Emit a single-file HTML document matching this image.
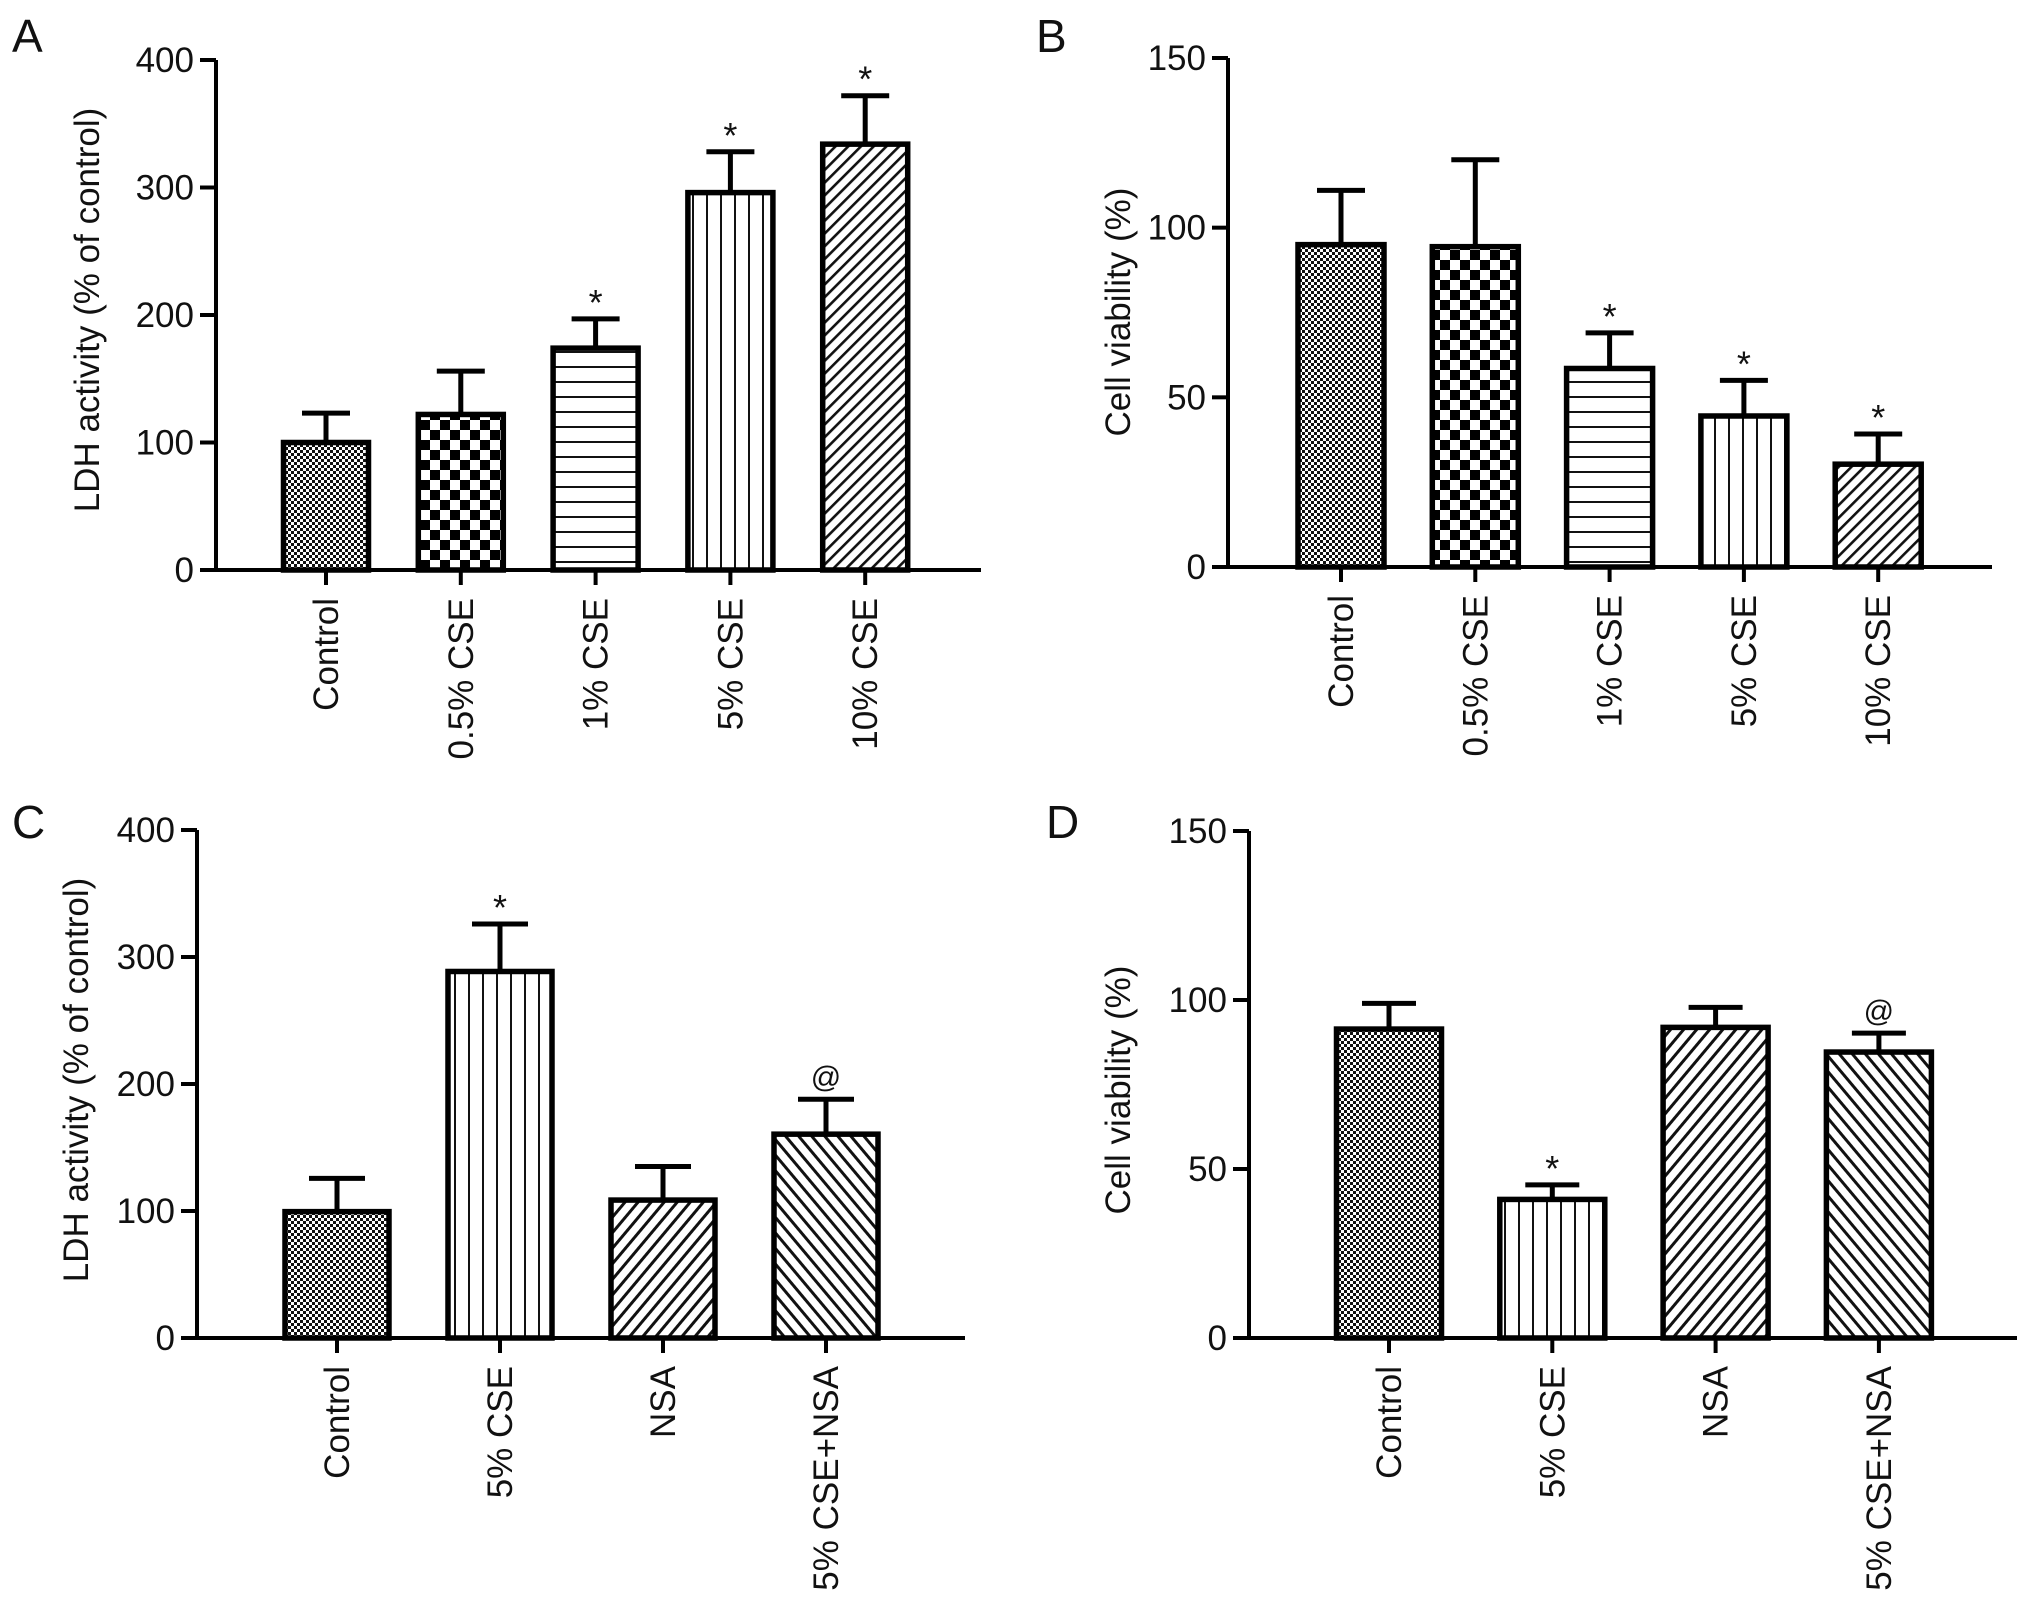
<!DOCTYPE html>
<html><head><meta charset="utf-8"><style>
html,body{margin:0;padding:0;background:#fff;}
svg{display:block;}
text{font-family:"Liberation Sans",Arial,sans-serif;fill:#111;}
</style></head><body>
<svg id="fig" width="2031" height="1615" viewBox="0 0 2031 1615" xmlns="http://www.w3.org/2000/svg">
<defs>
<pattern id="pFine" patternUnits="userSpaceOnUse" width="6" height="6"><rect width="6" height="6" fill="#fff"/><rect width="3" height="3" fill="#111"/><rect x="3" y="3" width="3" height="3" fill="#111"/></pattern>
<pattern id="pCheck" patternUnits="userSpaceOnUse" width="20" height="20"><rect width="20" height="20" fill="#fff"/><rect width="10" height="10" fill="#000"/><rect x="10" y="10" width="10" height="10" fill="#000"/></pattern>
<pattern id="pH" patternUnits="userSpaceOnUse" width="10" height="15"><rect width="10" height="15" fill="#fff"/><rect y="6" width="10" height="2" fill="#111"/></pattern>
<pattern id="pV" patternUnits="userSpaceOnUse" width="14" height="10"><rect width="14" height="10" fill="#fff"/><rect x="6" width="2" height="10" fill="#111"/></pattern>
<pattern id="pDiag" patternUnits="userSpaceOnUse" width="9" height="9" patternTransform="rotate(45)"><rect width="9" height="9" fill="#fff"/><rect width="2.6" height="9" fill="#111"/></pattern>
<pattern id="pDiag2" patternUnits="userSpaceOnUse" width="10" height="10" patternTransform="rotate(40)"><rect width="10" height="10" fill="#fff"/><rect width="3" height="10" fill="#111"/></pattern>
<pattern id="pBack" patternUnits="userSpaceOnUse" width="10" height="10" patternTransform="rotate(-40)"><rect width="10" height="10" fill="#fff"/><rect width="3" height="10" fill="#111"/></pattern>
</defs>
</svg>
<script>
const catsAB = ["Control","0.5% CSE","1% CSE","5% CSE","10% CSE"];
const catsCD = ["Control","5% CSE","NSA","5% CSE+NSA"];
const ldhA = [100,122,174,296,334];
const ldhAErr = [123,156,197,328,372];
const viaB = [95,94.4,58.5,44.5,30.3];
const viaBErr = [111,120,69,55,39.2];
const ldhC = [99.5,288.6,108.6,160.5];
const ldhCErr = [125.7,326,135,188];
const viaD = [91.4,41,91.9,84.6];
const viaDErr = [99,45.3,97.8,90.2];
const marksA = ["","","*","*","*"];
const marksB = ["","","*","*","*"];
const marksC = ["","*","","@"];
const marksD = ["","*","","@"];
const ticksLDH = [0,100,200,300,400];
const ticksVia = [0,50,100,150];
const fillsAB = ["pFine","pCheck","pH","pV","pDiag"];
const fillsCD = ["pFine","pV","pDiag2","pBack"];

const NS="http://www.w3.org/2000/svg";
const svg=document.getElementById('fig');
function mk(tag,attrs,parent){const e=document.createElementNS(NS,tag);for(const k in attrs)e.setAttribute(k,attrs[k]);(parent||svg).appendChild(e);return e;}

function panel(p){
  const g=mk('g',{});
  
  
  const yS=v=>p.y0-(v-0)/(p.yMax)*(p.y0-p.yTop);
  const xS=i=>p.x0c+i*p.step;
  const L=mk('text',{x:p.lx,y:p.ly,'font-size':46},g);L.textContent=p.id;
  
  
  p.vals.forEach((v,i)=>{
    const cx=xS(i),w=p.bw;
    const b=mk('rect',{x:cx-w/2,y:yS(v),width:w,height:p.y0-yS(v),fill:'url(#'+p.fills[i]+')',stroke:'#000','stroke-width':5.5},g);
    
    
    const ey=yS(p.errs[i]);
    const e1=mk('line',{x1:cx,x2:cx,y1:yS(v)-2,y2:ey,stroke:'#000','stroke-width':5},g);
    
    
    const e2=mk('line',{x1:cx-p.cap/2,x2:cx+p.cap/2,y1:ey,y2:ey,stroke:'#000','stroke-width':5},g);
    
    
    if(p.marks[i]){
      const m=p.marks[i];
      const t=mk('text',{x:cx,y:m==='*'?ey-4:ey-12,'font-size':m==='*'?36:30,'text-anchor':'middle',fill:m==='@'?'#444':'#111'},g);
      t.textContent=m;
      
      
    }
    const tk=mk('line',{x1:cx,x2:cx,y1:p.y0,y2:p.y0+15,stroke:'#000','stroke-width':4},g);
    
    
    const lb=mk('text',{x:0,y:0,'font-size':35,'text-anchor':'end',transform:`translate(${cx+12},${p.y0+28}) rotate(-90)`},g);
    lb.textContent=p.cats[i];
    
    
  });
  const ya=mk('line',{x1:p.ax,x2:p.ax,y1:p.yTop,y2:p.y0+2,stroke:'#000','stroke-width':4},g);
  
  
  const xa=mk('line',{x1:p.ax-16,x2:p.xEnd,y1:p.y0,y2:p.y0,stroke:'#000','stroke-width':4},g);
  
  
  p.ticks.forEach(t=>{
    const y=yS(t);
    const l=mk('line',{x1:p.ax-16,x2:p.ax,y1:y,y2:y,stroke:'#000','stroke-width':4},g);
    
    
    const tx=mk('text',{x:p.ax-22,y:y+12,'font-size':35,'text-anchor':'end'},g);
    tx.textContent=t;
    
    
  });
  const ti=mk('text',{x:0,y:0,'font-size':35,'text-anchor':'middle',transform:`translate(${p.tx+12},${p.ty}) rotate(-90)`},g);
  ti.textContent=p.title;
  
  
}

panel({id:'A',lx:12,ly:52,cats:catsAB,vals:ldhA,errs:ldhAErr,marks:marksA,fills:fillsAB,ticks:ticksLDH,yMax:400,y0:570,yTop:60,ax:216,xEnd:981,x0c:326,step:134.8,bw:85,cap:48,tx:87,ty:310,title:"LDH activity (% of control)"});
panel({id:'B',lx:1036,ly:52,cats:catsAB,vals:viaB,errs:viaBErr,marks:marksB,fills:fillsAB,ticks:ticksVia,yMax:150,y0:567,yTop:58,ax:1228,xEnd:1992,x0c:1341,step:134.3,bw:86,cap:48,tx:1118,ty:312,title:"Cell viability (%)"});
panel({id:'C',lx:12,ly:838,cats:catsCD,vals:ldhC,errs:ldhCErr,marks:marksC,fills:fillsCD,ticks:ticksLDH,yMax:400,y0:1338,yTop:830,ax:197,xEnd:965,x0c:337,step:163,bw:104,cap:56,tx:76,ty:1080,title:"LDH activity (% of control)"});
panel({id:'D',lx:1046,ly:838,cats:catsCD,vals:viaD,errs:viaDErr,marks:marksD,fills:fillsCD,ticks:ticksVia,yMax:150,y0:1338,yTop:831,ax:1249,xEnd:2017,x0c:1389,step:163.3,bw:105,cap:54,tx:1118,ty:1090,title:"Cell viability (%)"});
</script>
</body></html>
